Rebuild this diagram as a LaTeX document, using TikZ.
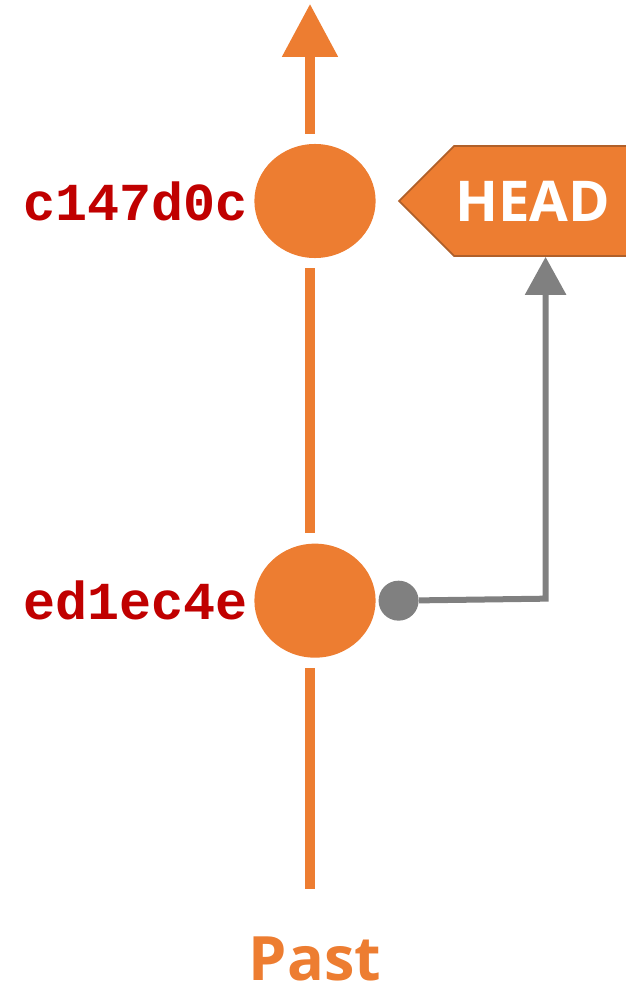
\documentclass[tikz,border=0pt]{standalone}
\usepackage{fontspec}
\setmainfont{Open Sans}
\newfontfamily\hashfont{Liberation Mono}
\usetikzlibrary{calc,positioning,arrows.meta,shapes.geometric,shapes.symbols}
\definecolor{gitorange}{HTML}{ED7D31}
\definecolor{hashred}{HTML}{C00000}
\definecolor{refgray}{HTML}{808080}
\definecolor{headedge}{HTML}{B0602A}

\begin{document}
\begin{tikzpicture}[x=0.025cm,y=-0.025cm]
    \tikzset{
        commit/.style={ellipse, fill=gitorange, minimum width=3.03cm, minimum height=2.85cm, inner sep=0pt},
        hash/.style={font=\hashfont\bfseries\fontsize{38}{40}\selectfont, text=hashred, inner sep=0pt},
        headsign/.style={signal, signal to=west, signal pointer angle=90, fill=gitorange, draw=headedge, line width=1.2pt, text=white, font=\bfseries\fontsize{40}{44}\selectfont, minimum height=2.75cm, minimum width=6.6cm, inner sep=0pt},
        refdot/.style={circle, fill=refgray, minimum size=1cm, inner sep=0pt},
        trunk/.style={draw=gitorange, line width=0.27cm},
        refline/.style={draw=refgray, line width=0.15cm, -{Triangle[width=1cm, length=0.95cm]}},
        pastlabel/.style={font=\bfseries\fontsize{43.5}{46}\selectfont, text=gitorange, inner sep=0pt},
    }
    \useasboundingbox (0,0) rectangle (625,991);

    \node[commit] (item1) at (315,201) {};
    \node[commit, below=7.125cm of item1] (item2) {};

    \node[hash, left=0.15cm of item1] (hash1) {c147d0c};
    \node[hash, left=0.15cm of item2] (hash2) {ed1ec4e};

    % text kept off the right edge of the page
    \node[headsign, anchor=west] (HEAD) at ($(item1.east)+(22,0)$) {HEAD\kern1.3cm};
    \node[refdot, right=0.06cm of item2] (dot) {};

    \node[pastlabel, below=6.97cm of item2] (past) {Past};

    \coordinate (tip) at ($(item1.north)+(-5,-140)$);
    \coordinate (tail) at ($(item2.south)+(-5,231)$);
    \coordinate (bend) at ($(dot.center)+(147,-2)$);

    \path[trunk, -{Triangle[width=1.33cm, length=1.33cm]}] ($(item1.north)+(-5,-10)$) -- (tip);
    \path[trunk] ($(item1.south)+(-5,10)$) -- ($(item2.north)+(-5,-10)$);
    \path[trunk] ($(item2.south)+(-5,10)$) -- (tail);
    \path[refline] (dot) -- (bend) -- (bend |- HEAD.south);
\end{tikzpicture}
\end{document}
